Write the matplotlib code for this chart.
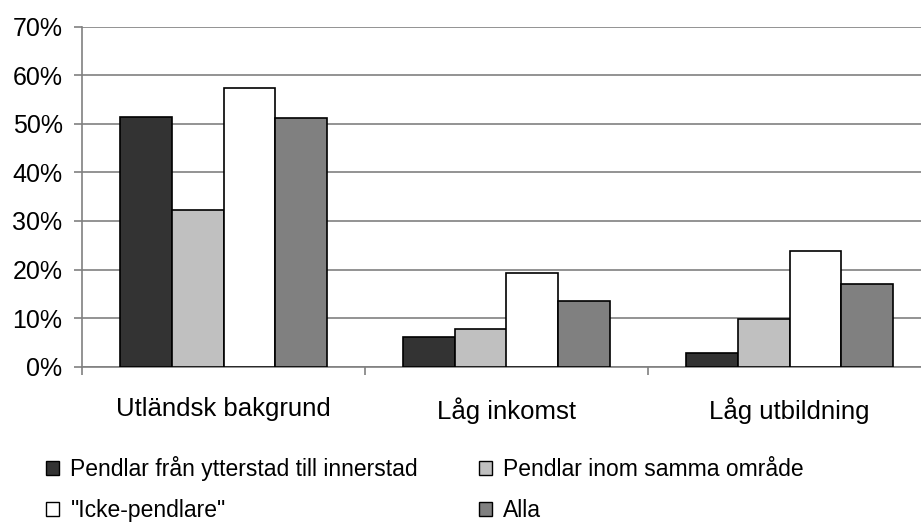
import matplotlib
matplotlib.use("Agg")
import matplotlib.pyplot as plt
from matplotlib.patches import Patch
import numpy as np

plt.rcParams['font.family'] = ['Liberation Sans', 'DejaVu Sans']

categories = ["Utländsk bakgrund", "Låg inkomst", "Låg utbildning"]
series_names = ["Pendlar från ytterstad till innerstad",
                "Pendlar inom samma område",
                "\"Icke-pendlare\"",
                "Alla"]
pendlar_ytter_inner = [51.5, 6.2, 2.8]
pendlar_samma = [32.2, 7.8, 9.8]
icke_pendlare = [57.3, 19.3, 23.9]
alla = [51.2, 13.5, 17.0]
yticks = [0, 10, 20, 30, 40, 50, 60, 70]

series = [pendlar_ytter_inner, pendlar_samma, icke_pendlare, alla]
colors = ["#333333", "#c0c0c0", "#ffffff", "#808080"]

fig = plt.figure(figsize=(9.21, 5.25), dpi=100)
ax = fig.add_axes([82 / 921, 158.3 / 525, 849 / 921, 340 / 525])

x = np.arange(len(categories))
w = 0.183
for i, (vals, c) in enumerate(zip(series, colors)):
    ax.bar(x + (i - 1.5) * w, vals, width=w, color=c, edgecolor="black",
           linewidth=1.2, zorder=3)

ax.set_xlim(-0.5, len(categories) - 0.5)
ax.set_ylim(0, 70)
ax.set_yticks(yticks)
ax.set_yticklabels([f"{t}%" for t in yticks], fontsize=18)
ax.yaxis.grid(True, color="#808080", linewidth=1.2, zorder=0)
ax.set_axisbelow(True)

ax.set_xticks(x)
ax.set_xticklabels(categories, fontsize=18.5)
ax.set_xticks(np.arange(-0.5, len(categories), 1.0), minor=True)
ax.tick_params(axis="x", which="major", length=0, pad=22)
ax.tick_params(axis="x", which="minor", length=6, width=1.2, color="#808080")
ax.tick_params(axis="y", length=6, width=1.2, color="#808080", pad=8)

for s in ["top", "right"]:
    ax.spines[s].set_visible(False)
for s in ["left", "bottom"]:
    ax.spines[s].set_color("#808080")
    ax.spines[s].set_linewidth(1.2)

# legend is filled column by column: two entries per column
order = [0, 2, 1, 3]
handles = [Patch(facecolor=colors[k], edgecolor="black", linewidth=1.0) for k in order]
labels = [series_names[k] for k in order]
fig.legend(handles, labels, loc="upper left",
           bbox_to_anchor=(46 / 921, 1 - 456 / 525), ncol=2, frameon=False,
           fontsize=16.5, handlelength=0.585, handleheight=0.585,
           handletextpad=0.48, columnspacing=2.65, labelspacing=0.8,
           borderpad=0, borderaxespad=0)

fig.savefig("out.png", dpi=100)
